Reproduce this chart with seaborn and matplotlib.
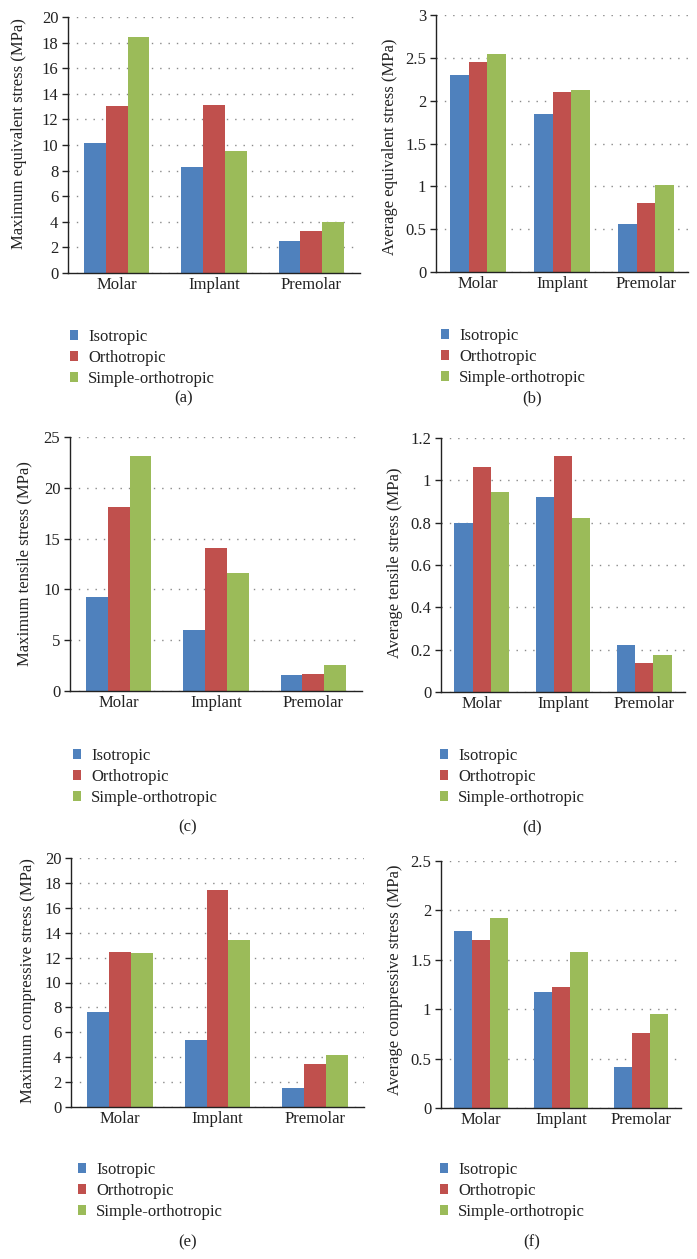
import numpy as np
import pandas as pd
import seaborn as sns
import matplotlib.pyplot as plt
from matplotlib.ticker import FuncFormatter, MultipleLocator

# categories / series
teeth = ["Molar", "Implant", "Premolar"]
models = ["Isotropic", "Orthotropic", "Simple-orthotropic"]
colors = ["#4F81BD", "#C0504D", "#9BBB59"]

# values per model, order: Molar, Implant, Premolar
max_equiv_iso = [10.15, 8.3, 2.5]
max_equiv_ortho = [13.05, 13.1, 3.25]
max_equiv_simple = [18.4, 9.5, 3.95]

avg_equiv_iso = [2.30, 1.84, 0.56]
avg_equiv_ortho = [2.45, 2.10, 0.81]
avg_equiv_simple = [2.54, 2.13, 1.01]

max_tens_iso = [9.3, 6.0, 1.6]
max_tens_ortho = [18.1, 14.1, 1.7]
max_tens_simple = [23.1, 11.6, 2.55]

avg_tens_iso = [0.80, 0.92, 0.22]
avg_tens_ortho = [1.065, 1.115, 0.135]
avg_tens_simple = [0.945, 0.82, 0.175]

max_comp_iso = [7.6, 5.35, 1.55]
max_comp_ortho = [12.45, 17.4, 3.45]
max_comp_simple = [12.35, 13.45, 4.2]

avg_comp_iso = [1.79, 1.17, 0.41]
avg_comp_ortho = [1.70, 1.22, 0.76]
avg_comp_simple = [1.92, 1.575, 0.955]

ylabels = [
    "Maximum equivalent stress (MPa)",
    "Average equivalent stress (MPa)",
    "Maximum tensile stress (MPa)",
    "Average tensile stress (MPa)",
    "Maximum compressive stress (MPa)",
    "Average compressive stress (MPa)",
]
ymax = [20, 3, 25, 1.2, 20, 2.5]
ystep = [2, 0.5, 5, 0.2, 2, 0.5]
panel_tags = ["(a)", "(b)", "(c)", "(d)", "(e)", "(f)"]

series = [
    (max_equiv_iso, max_equiv_ortho, max_equiv_simple),
    (avg_equiv_iso, avg_equiv_ortho, avg_equiv_simple),
    (max_tens_iso, max_tens_ortho, max_tens_simple),
    (avg_tens_iso, avg_tens_ortho, avg_tens_simple),
    (max_comp_iso, max_comp_ortho, max_comp_simple),
    (avg_comp_iso, avg_comp_ortho, avg_comp_simple),
]

W, H = 697, 1259
# layout in pixels: left, right, top, bottom of plot area
boxes = [
    (68, 360, 17, 273),
    (436, 688, 15, 272),
    (70, 362, 437, 691),
    (441, 685, 438, 692),
    (71, 364, 858, 1107),
    (441, 681, 861, 1108),
]
# ylabel anchor (right edge x, center y) in pixels
ylabel_xy = [(27, 134), (398, 147), (32, 564), (403, 563), (36, 981), (403, 980)]
legend_xy = [(70, 335), (441, 334), (73, 754), (440, 754), (78, 1168), (440, 1168)]
tag_xy = [(184, 398), (532, 398), (188, 827), (532, 827), (188, 1242), (532, 1242)]

sns.set_style("white")
plt.rcParams["font.family"] = ["Liberation Serif", "DejaVu Serif"]
plt.rcParams["font.size"] = 12

fig = plt.figure(figsize=(W / 100, H / 100), dpi=100)

for i in range(6):
    l, r, t, b = boxes[i]
    ax = fig.add_axes([l / W, 1 - b / H, (r - l) / W, (b - t) / H])

    df = pd.DataFrame({
        "Tooth": teeth * 3,
        "Model": np.repeat(models, 3),
        "Stress": np.concatenate(series[i]),
    })
    sns.barplot(data=df, x="Tooth", y="Stress", hue="Model", order=teeth,
                hue_order=models, palette=colors, saturation=1, width=0.67,
                errorbar=None, linewidth=0, ax=ax)

    ax.set_xlim(-0.5, 2.5)
    ax.set_ylim(0, ymax[i])
    ax.yaxis.set_major_locator(MultipleLocator(ystep[i]))
    ax.yaxis.set_major_formatter(FuncFormatter(lambda v, p: f"{v:g}"))
    ax.grid(axis="y", color="#8a8a8a", linestyle=(0, (1, 5)), linewidth=1)
    ax.set_axisbelow(True)
    for s in ["top", "right"]:
        ax.spines[s].set_visible(False)
    for s in ["left", "bottom"]:
        ax.spines[s].set_color("#222222")
        ax.spines[s].set_linewidth(1)
    ax.tick_params(axis="x", length=0, pad=3, labelsize=12, colors="#222222")
    ax.tick_params(axis="y", left=True, length=4, width=1, pad=3,
                   labelsize=12, colors="#222222")
    ax.set_xlabel("")
    ax.set_ylabel(ylabels[i], fontsize=12, color="#222222")
    ax.yaxis.set_label_coords(ylabel_xy[i][0] / W, 1 - ylabel_xy[i][1] / H,
                              transform=fig.transFigure)

    h, lab = ax.get_legend_handles_labels()
    ax.legend(h, lab, loc="upper left",
              bbox_to_anchor=(legend_xy[i][0] / W, 1 - (legend_xy[i][1] - 6) / H),
              bbox_transform=fig.transFigure, frameon=False, borderpad=0,
              borderaxespad=0, handlelength=0.5, handleheight=0.5,
              handletextpad=0.6, labelspacing=0.3, fontsize=12,
              labelcolor="#222222")

    fig.text(tag_xy[i][0] / W, 1 - tag_xy[i][1] / H, panel_tags[i],
             ha="center", va="center", fontsize=12, color="#222222")

fig.savefig("out.png", dpi=100)
